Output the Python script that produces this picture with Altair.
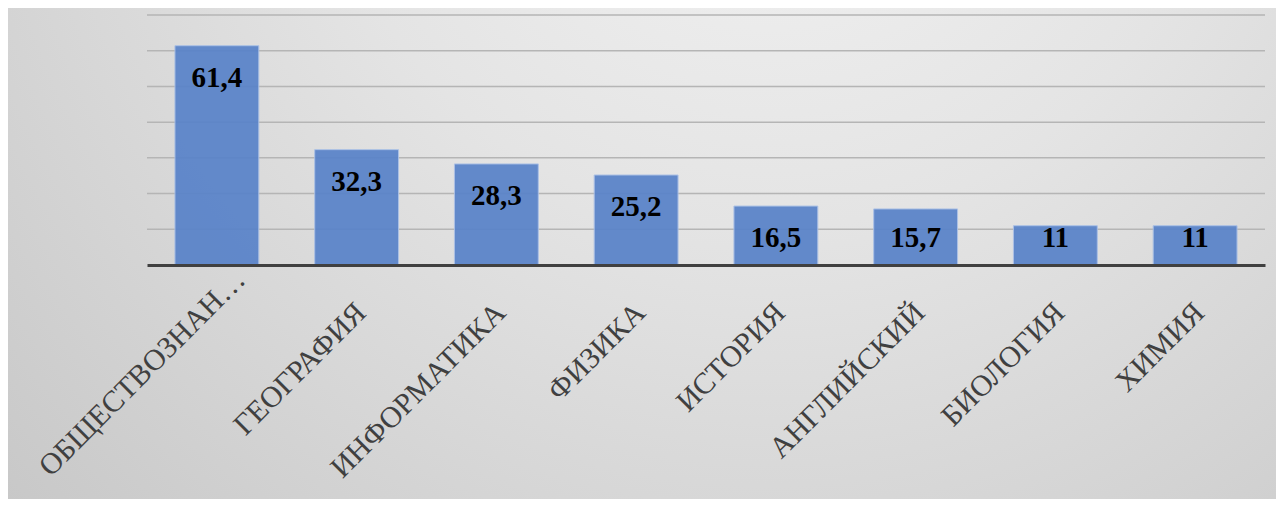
import altair as alt
import pandas as pd

subjects = ["ОБЩЕСТВОЗНАНИЕ", "ГЕОГРАФИЯ", "ИНФОРМАТИКА", "ФИЗИКА",
            "ИСТОРИЯ", "АНГЛИЙСКИЙ", "БИОЛОГИЯ", "ХИМИЯ"]
values = [61.4, 32.3, 28.3, 25.2, 16.5, 15.7, 11, 11]
grid_values = [10, 20, 30, 40, 50, 60, 70]

df = pd.DataFrame({"subject": subjects, "value": values})
grid_df = pd.DataFrame({"g": grid_values})

W, H = 1118, 250
PAD = {"left": 139, "top": 7, "right": 11, "bottom": 234}

bg = alt.Chart(alt.Data(values=[{"a": 1}])).mark_rect(
    fill=alt.RadialGradient(
        gradient="radial",
        x1=0.6, y1=0.12, r1=0,
        x2=0.6, y2=0.12, r2=0.9,
        stops=[alt.GradientStop(color="#f4f4f4", offset=0),
               alt.GradientStop(color="#e4e4e4", offset=0.4),
               alt.GradientStop(color="#c4c4c4", offset=1)],
    ),
    strokeWidth=0,
).encode(
    x=alt.value(-PAD["left"]), x2=alt.value(W + PAD["right"]),
    y=alt.value(-PAD["top"]), y2=alt.value(H + PAD["bottom"]),
)

y_scale = alt.Scale(domain=[0, 70], nice=False)

grid = alt.Chart(grid_df).mark_rule(color="#b5b5b5", strokeWidth=1.5).encode(
    y=alt.Y("g:Q", scale=y_scale, axis=None),
    x=alt.value(0), x2=alt.value(W),
)

label_expr = ("length(datum.label) > 12 ? slice(datum.label, 0, 12) + '…' : datum.label")

x_enc = alt.X(
    "subject:N", sort=None, title=None,
    scale=alt.Scale(paddingInner=0.4, paddingOuter=0.2),
    axis=alt.Axis(
        labelAngle=-45, labelAlign="right", labelBaseline="alphabetic",
        labelFont="Liberation Serif", labelFontSize=30, labelColor="#404040",
        labelPadding={"condition": {"test": "datum.index == 0", "value": 16}, "value": 49},
        labelOffset={"condition": {"test": "datum.index == 0", "value": 30}, "value": 11},
        ticks=False, tickSize=0,
        domainColor="#404040", domainWidth=3, labelLimit=0,
        labelOverlap=False, labelBound=False, zindex=1,
        labelExpr=label_expr,
    ),
)

bars = alt.Chart(df).mark_bar(
    color="#5983c9", opacity=0.93, stroke="#a8bfe6", strokeWidth=1,
).encode(
    x=x_enc,
    y=alt.Y("value:Q", scale=y_scale, title=None, axis=None),
)

labels = alt.Chart(df).transform_calculate(
    pos="max(datum.value - 9, 7.6)",
    txt="replace(toString(datum.value), '.', ',')",
).mark_text(
    font="Liberation Serif", fontSize=29, fontWeight="bold",
    color="black", baseline="middle", align="center",
).encode(
    x=alt.X("subject:N", sort=None),
    y=alt.Y("pos:Q", scale=y_scale),
    text="txt:N",
)

chart = alt.layer(bg, grid, bars, labels).properties(
    width=W, height=H,
    padding=PAD,
    autosize=alt.AutoSizeParams(type="none"),
    background="white",
).configure_view(stroke=None)

chart.save("out.html", embed_options={"renderer": "svg", "actions": False})
